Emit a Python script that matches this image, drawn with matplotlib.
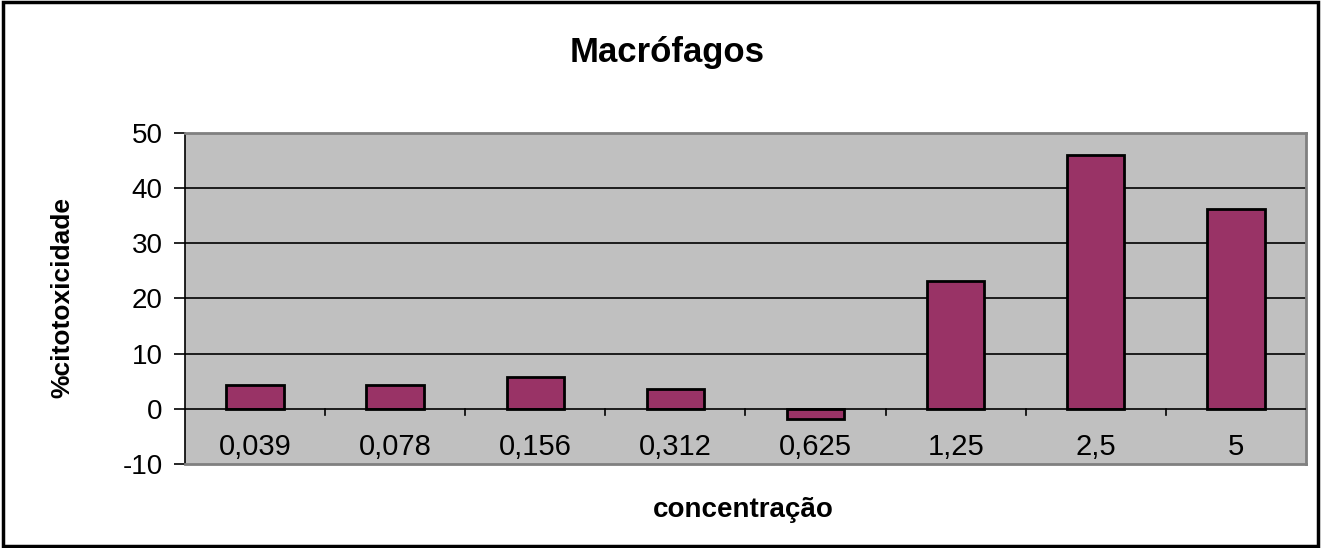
import matplotlib
matplotlib.use("Agg")
import matplotlib.pyplot as plt
import numpy as np

# data
categories = ["0,039", "0,078", "0,156", "0,312", "0,625", "1,25", "2,5", "5"]
citotox = [4.3, 4.3, 5.8, 3.6, -1.8, 23.2, 46.0, 36.2]

plt.rcParams['font.family'] = ['Liberation Sans', 'DejaVu Sans']
plt.rcParams['axes.unicode_minus'] = False

fig = plt.figure(figsize=(13.21, 5.48), dpi=100)
ax = fig.add_axes([0.140, 0.1533, 0.8486, 0.604])

x = np.arange(len(categories))
ax.bar(x, citotox, width=0.41, color="#993366", edgecolor="black", linewidth=2, zorder=3)

ax.set_facecolor("#C0C0C0")
ax.set_xlim(-0.5, len(categories) - 0.5)
ax.set_ylim(-10, 50)
ax.set_yticks(range(-10, 51, 10))
for yv in range(10, 50, 10):
    ax.axhline(yv, color="black", linewidth=1.2, zorder=1)
ax.axhline(0, color="black", linewidth=1.2, zorder=4)

# category ticks on the zero line, labels below it
for k in range(1, len(categories)):
    ax.plot([k - 0.5, k - 0.5], [0, -1.2], color="black", linewidth=1.2, zorder=4)
for xi, lab in zip(x, categories):
    ax.text(xi, -6.9, lab, ha="center", va="center", fontsize=21)
ax.set_xticks([])

ax.tick_params(axis="y", labelsize=20, length=8, width=1.2, direction="out", pad=8)
ax.spines["left"].set_color("black")
ax.spines["left"].set_linewidth(1.2)
for s in ["top", "right", "bottom"]:
    ax.spines[s].set_color("#808080")
    ax.spines[s].set_linewidth(2)

fig.text(0.505, 0.905, "Macrófagos", ha="center", va="center", fontsize=25, fontweight="bold")
fig.text(0.563, 0.069, "concentração", ha="center", va="center", fontsize=20, fontweight="bold")
fig.text(0.047, 0.458, "%citotoxicidade", ha="center", va="center", rotation=90,
         fontsize=19, fontweight="bold")

# outer chart border
fig.patches.append(plt.Rectangle((0.002, 0.003), 0.996, 0.994, transform=fig.transFigure,
                                 fill=False, edgecolor="black", linewidth=2.5))

fig.savefig("out.png", dpi=100)
